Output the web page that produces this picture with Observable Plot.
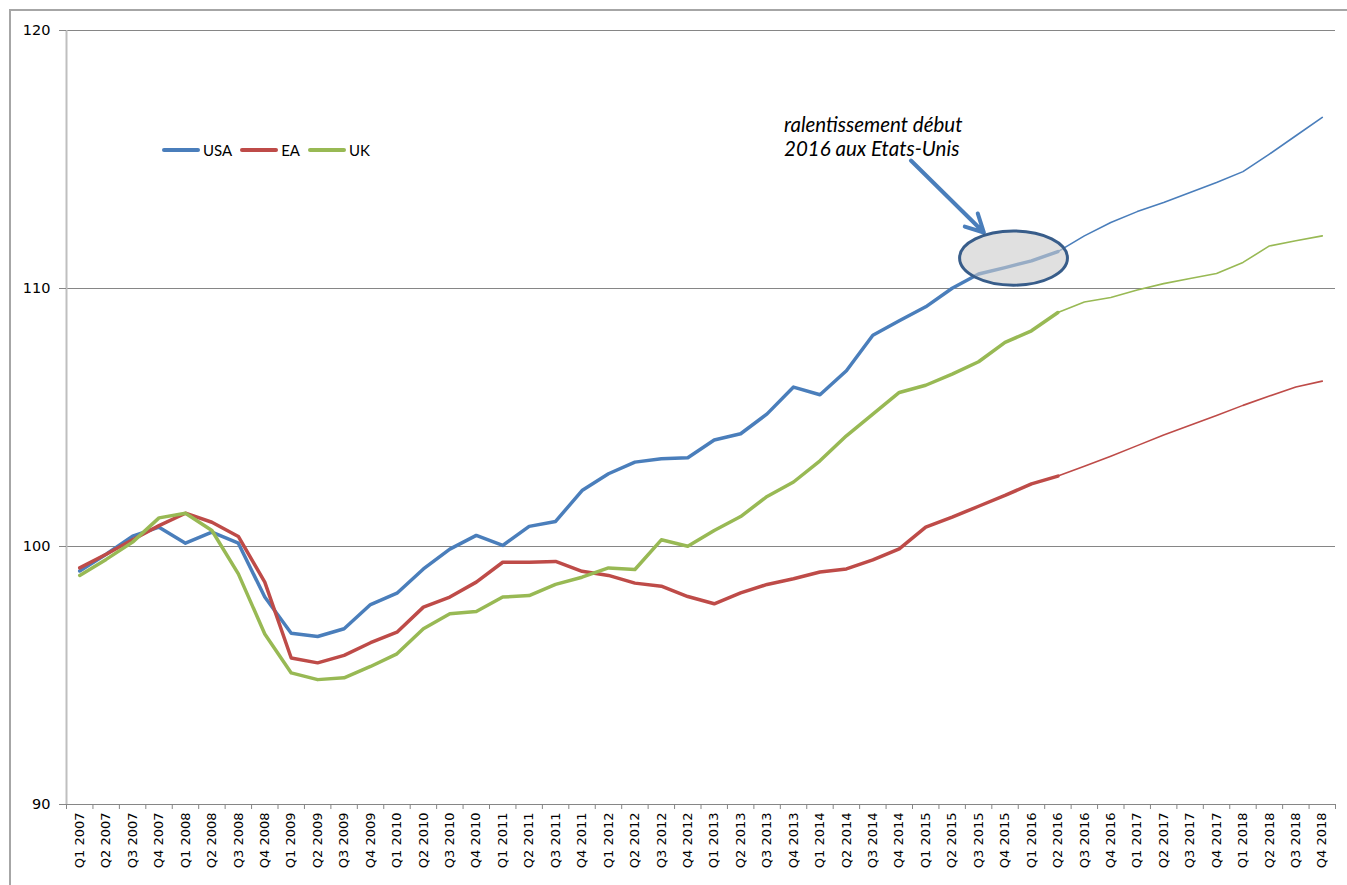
<!DOCTYPE html>
<html>
<head>
<meta charset="utf-8">
<script src="https://cdn.jsdelivr.net/npm/d3@7"></script>
<script src="https://cdn.jsdelivr.net/npm/@observablehq/plot@0.6"></script>
<style>
  body { margin: 0; background: #fff; }
  #wrap { position: relative; width: 1347px; height: 885px; overflow: hidden; }
  #frame { position: absolute; left: 9px; top: 9px; width: 1400px; height: 900px;
           border-left: 2px solid #a6a6a6; border-top: 2px solid #a6a6a6; pointer-events: none; }
  #legend { position: absolute; left: 162px; top: 140px; font-family: Lato, "Open Sans", sans-serif;
            font-size: 15px; color: #000; display: flex; align-items: center; height: 20px; }
  #legend .sw { display: inline-block; width: 38px; height: 4px; border-radius: 2px; margin-right: 3px; }
  #legend .it { display: flex; align-items: center; margin-right: 8px; }
  svg { position: absolute; left: 0; top: 0; }
</style>
</head>
<body>
<div id="wrap"><div id="frame"></div></div>
<script>
// ---- data ----
const quarters = [
  "Q1 2007","Q2 2007","Q3 2007","Q4 2007","Q1 2008","Q2 2008","Q3 2008","Q4 2008",
  "Q1 2009","Q2 2009","Q3 2009","Q4 2009","Q1 2010","Q2 2010","Q3 2010","Q4 2010",
  "Q1 2011","Q2 2011","Q3 2011","Q4 2011","Q1 2012","Q2 2012","Q3 2012","Q4 2012",
  "Q1 2013","Q2 2013","Q3 2013","Q4 2013","Q1 2014","Q2 2014","Q3 2014","Q4 2014",
  "Q1 2015","Q2 2015","Q3 2015","Q4 2015","Q1 2016","Q2 2016","Q3 2016","Q4 2016",
  "Q1 2017","Q2 2017","Q3 2017","Q4 2017","Q1 2018","Q2 2018","Q3 2018","Q4 2018"
];
const usa = [
  99.05, 99.7, 100.4, 100.75, 100.13, 100.56, 100.13, 98.04,
  96.64, 96.51, 96.81, 97.75, 98.19, 99.13, 99.9, 100.43,
  100.04, 100.78, 100.97, 102.17, 102.82, 103.27, 103.4, 103.44,
  104.13, 104.37, 105.14, 106.18, 105.88, 106.81, 108.19, 108.75,
  109.29, 110.01, 110.56, 110.81, 111.07, 111.43, 112.04, 112.56,
  112.98, 113.33, 113.72, 114.11, 114.53, 115.21, 115.92, 116.63
];
const ea = [
  99.17, 99.7, 100.26, 100.81, 101.29, 100.94, 100.39, 98.62,
  95.68, 95.49, 95.78, 96.27, 96.68, 97.65, 98.04, 98.62,
  99.39, 99.39, 99.42, 99.04, 98.88, 98.58, 98.46, 98.06,
  97.78, 98.2, 98.53, 98.75, 99.01, 99.13, 99.48, 99.91,
  100.75, 101.14, 101.56, 101.98, 102.43, 102.73, 103.11, 103.5,
  103.91, 104.32, 104.7, 105.08, 105.47, 105.83, 106.18, 106.41
];
const uk = [
  98.88, 99.5, 100.17, 101.11, 101.29, 100.62, 98.94, 96.61,
  95.1, 94.84, 94.91, 95.35, 95.84, 96.81, 97.39, 97.48,
  98.04, 98.1, 98.53, 98.81, 99.17, 99.11, 100.26, 100.01,
  100.62, 101.16, 101.94, 102.5, 103.32, 104.29, 105.13, 105.97,
  106.25, 106.68, 107.16, 107.91, 108.36, 109.07, 109.48, 109.65,
  109.94, 110.19, 110.39, 110.58, 111.01, 111.65, 111.85, 112.04
];
const seriesNames = ["USA", "EA", "UK"];
const seriesColors = ["#4A7EBB", "#BE4B48", "#98B954"];
const yTicks = [90, 100, 110, 120];
const lastObserved = "Q2 2016";
const noteText = "ralentissement début\n2016 aux Etats-Unis";
const noteAt = { x: 26.64, y: 115.9 };
const arrowAt = { x1: 31.44, y1: 114.96, x2: 34.2, y2: 112.17 };
const ellipseAt = { x: 35.34, y: 111.16, rx: 2.04, ry: 1.05 };

// ---- build ----
const valuesBySeries = { USA: usa, EA: ea, UK: uk };
const cut = quarters.indexOf(lastObserved);
const rows = seriesNames.flatMap(s => quarters.map((q, i) => ({ s, q, i, v: valuesBySeries[s][i] })));
const observed = rows.filter(d => d.i <= cut);
const forecast = rows.filter(d => d.i >= cut);
const idx = quarters.map((q, i) => i);
const boundaries = d3.range(quarters.length + 1).map(i => i - 0.5);

const plot = Plot.plot({
  width: 1347,
  height: 885,
  marginLeft: 66,
  marginRight: 12,
  marginTop: 30,
  marginBottom: 81,
  style: { fontFamily: "DejaVu Sans", fontSize: "13px", color: "#000", background: "transparent", overflow: "visible" },
  x: { type: "linear", domain: [-0.5, quarters.length - 0.5], axis: null, label: null },
  y: { domain: [90, 120], axis: null, label: null },
  color: { domain: seriesNames, range: seriesColors },
  marks: [
    Plot.ruleY(yTicks.slice(1), { stroke: "#868686", strokeWidth: 1 }),
    Plot.ruleY([90], { stroke: "#868686", strokeWidth: 1 }),
    Plot.ruleX([-0.5], { stroke: "#bfbfbf", strokeWidth: 2 }),
    Plot.axisY({ ticks: yTicks, tickSize: 7, tickPadding: 9, tickFormat: d => String(d), fontSize: 14.5, stroke: "#868686", label: null }),
    Plot.axisX({ ticks: idx, tickFormat: i => quarters[i], tickSize: 0, tickPadding: 8, tickRotate: -90, fontSize: 13, label: null }),
    Plot.axisX({ ticks: boundaries, tickFormat: () => "", tickSize: 5, stroke: "#868686", label: null }),
    Plot.line(observed, { x: "i", y: "v", z: "s", stroke: "s", strokeWidth: 3.5, strokeLinejoin: "round" }),
    Plot.line(forecast, { x: "i", y: "v", z: "s", stroke: "s", strokeWidth: 1.6 }),
    Plot.text([noteAt], { x: "x", y: "y", text: () => noteText, textAnchor: "start", lineAnchor: "middle",
      fontFamily: "Lato", fontStyle: "italic", fontSize: 20.5, lineHeight: 1.15, fill: "#000" }),
    Plot.arrow([arrowAt], { x1: "x1", y1: "y1", x2: "x2", y2: "y2", stroke: "#4A7EBB", strokeWidth: 4, headLength: 7.5, headAngle: 55 })
  ]
});

// ellipse placed through the plot's own scales
const sx = plot.scale("x"), sy = plot.scale("y");
const cx = sx.apply(ellipseAt.x), cy = sy.apply(ellipseAt.y);
const rx = Math.abs(sx.apply(ellipseAt.x + ellipseAt.rx) - cx);
const ry = Math.abs(sy.apply(ellipseAt.y + ellipseAt.ry) - cy);
d3.select(plot).append("ellipse")
  .attr("cx", cx).attr("cy", cy).attr("rx", rx).attr("ry", ry)
  .attr("fill", "#cccccc").attr("fill-opacity", 0.6)
  .attr("stroke", "#385D8A").attr("stroke-width", 3);

const wrap = document.getElementById("wrap");
wrap.appendChild(plot);

// legend
const legend = document.createElement("div");
legend.id = "legend";
seriesNames.forEach((n, k) => {
  const it = document.createElement("span");
  it.className = "it";
  const sw = document.createElement("span");
  sw.className = "sw";
  sw.style.background = seriesColors[k];
  it.appendChild(sw);
  it.appendChild(document.createTextNode(n));
  legend.appendChild(it);
});
wrap.appendChild(legend);
</script>
</body>
</html>
